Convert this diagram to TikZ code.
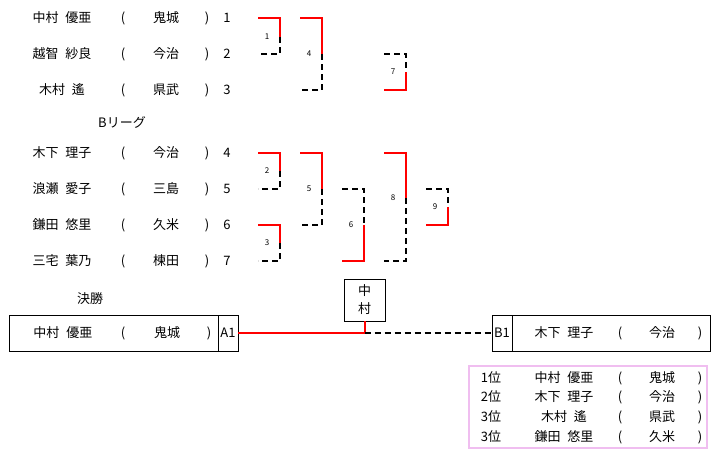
\documentclass[tikz,border=0pt]{standalone}
\usepackage{fontspec}
\setmainfont{Noto Sans CJK JP}
\newcommand{\nm}[2]{#1\hspace{7pt}#2}
\begin{document}
\begin{tikzpicture}[x=1pt,y=-1pt,
  txt/.style={inner sep=0pt,font=\fontsize{13}{14}\selectfont},
  lbl/.style={inner sep=0pt,font=\fontsize{8}{9}\selectfont},
  win/.style={draw=red,line width=2.5pt},
  lose/.style={draw=black,line width=1.6pt,dash pattern=on 6pt off 4pt},
  boxs/.style={draw=black,line width=0.6pt}]
\useasboundingbox (0,0) rectangle (716,456);
\newcommand{\prow}[5]{%
  \node[txt] at (62,#1) {#2};
  \node[txt] at (123,#1) {(};
  \node[txt] at (166,#1) {#3};
  \node[txt] at (207,#1) {)};
  \node[txt] at (227,#1) {#4};}
\prow{18}{\nm{中村}{優亜}}{鬼城}{1}{}
\prow{54}{\nm{越智}{紗良}}{今治}{2}{}
\prow{90}{\nm{木村}{遙}}{県武}{3}{}
\node[txt] (bl) at (122,122) {Bリーグ};
\prow{153}{\nm{木下}{理子}}{今治}{4}{}
\prow{189}{\nm{浪瀬}{愛子}}{三島}{5}{}
\prow{225}{\nm{鎌田}{悠里}}{久米}{6}{}
\prow{261}{\nm{三宅}{葉乃}}{楝田}{7}{}
% brackets: x1 x2 ytop ymid ybot label topstyle botstyle
\newcommand{\bkt}[8]{%
  \draw[#7] (#1,#3) -- (#2,#3) -- (#2,#4);
  \draw[#8] (#2,#4) -- (#2,#5) -- (#1,#5);
  \node[lbl] at ({(#1+#2)/2-2},#4) {#6};}
\bkt{258}{280}{18}{37}{54}{1}{win}{lose}
\bkt{300}{322}{18}{54}{90}{4}{win}{lose}
\bkt{384}{406}{54}{72}{90}{7}{lose}{win}
\bkt{258}{280}{153}{171}{189}{2}{win}{lose}
\bkt{258}{280}{225}{243}{261}{3}{win}{lose}
\bkt{300}{322}{153}{189}{225}{5}{win}{lose}
\bkt{342}{364}{189}{225}{261}{6}{lose}{win}
\bkt{384}{406}{153}{198}{261}{8}{win}{lose}
\bkt{426}{448}{189}{207}{225}{9}{lose}{win}
% final
\node[txt] (ks) at (90,299) {決勝};
\draw[boxs] (9,315) rectangle (238,351);
\draw[boxs] (218,315) -- (218,351);
\node[txt] at (63,333) {\nm{中村}{優亜}};
\node[txt] at (123,333) {(};
\node[txt] at (167,333) {鬼城};
\node[txt] at (209,333) {)};
\node[txt] (a1) at (228,333) {A1};
\node[boxs,minimum width=41pt,minimum height=42pt,inner sep=0pt,align=center,font=\fontsize{13}{18}\selectfont] (w) at (364.5,300) {中\\村};
\coordinate (j) at (364.5,333);
\draw[boxs] (492,315) rectangle (710,351);
\draw[boxs] (512,315) -- (512,351);
\node[txt] (b1) at (502,333) {B1};
\node[txt] at (564,333) {\nm{木下}{理子}};
\node[txt] at (620,333) {(};
\node[txt] at (662,333) {今治};
\node[txt] at (700,333) {)};
\draw[win,line width=2pt] (238,333) -- (j) -- (w.south);
\draw[lose] (j) -- (492,333);
% results
\draw[draw={rgb,255:red,240;green,190;blue,240},line width=2pt] (469,366) rectangle (707,448);
\newcommand{\rrow}[4]{%
  \node[txt] at (491,#1) {#2};
  \node[txt] at (564,#1) {#3};
  \node[txt] at (620,#1) {(};
  \node[txt] at (662,#1) {#4};
  \node[txt] at (700,#1) {)};}
\rrow{378}{1位}{\nm{中村}{優亜}}{鬼城}
\rrow{397}{2位}{\nm{木下}{理子}}{今治}
\rrow{417}{3位}{\nm{木村}{遙}}{県武}
\rrow{437}{3位}{\nm{鎌田}{悠里}}{久米}
\end{tikzpicture}
\end{document}
